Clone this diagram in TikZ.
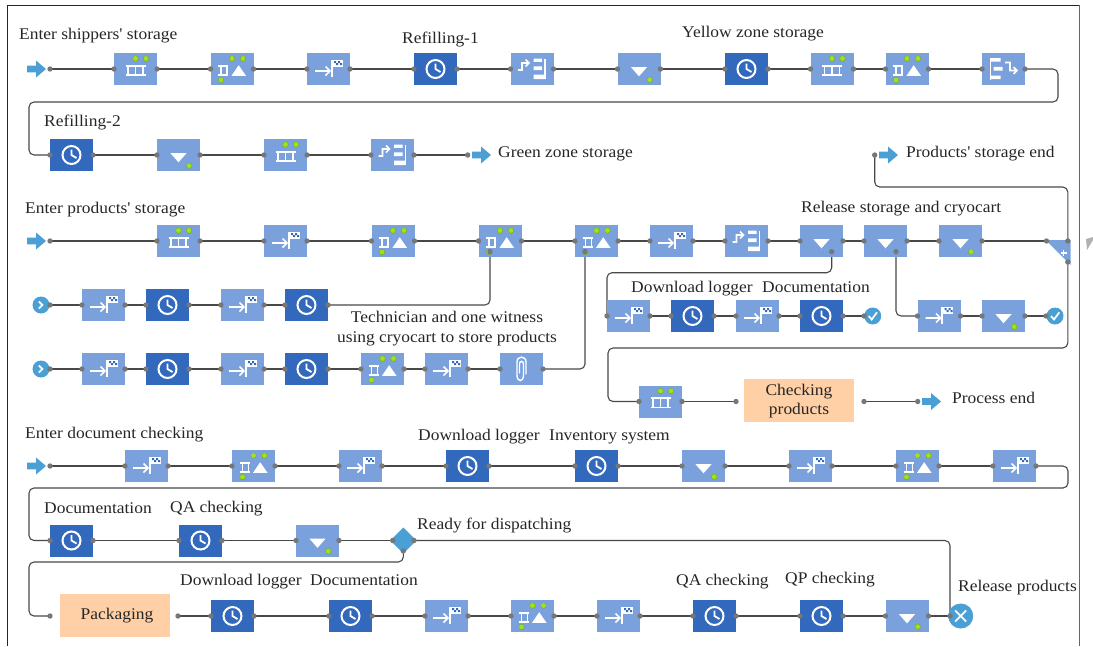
\documentclass[tikz,border=0pt]{standalone}
\usepackage{fontspec}
\newfontfamily\lf{Liberation Serif}[FakeStretch=1.07]
\usetikzlibrary{backgrounds,shapes.geometric}
\definecolor{boxl}{HTML}{7BA1DC}
\definecolor{boxd}{HTML}{3369BD}
\definecolor{arrowb}{HTML}{4A9FD5}
\definecolor{lime}{HTML}{9FE21C}
\definecolor{portc}{HTML}{777777}
\definecolor{connc}{HTML}{484848}
\definecolor{orangeb}{HTML}{FFCFA6}
\tikzset{
  x=1pt,y=-1pt,
  lightbox/.style={fill=boxl,minimum width=43pt,minimum height=32pt,inner sep=0pt,outer sep=0pt},
  darkbox/.style={fill=boxd,minimum width=43pt,minimum height=32pt,inner sep=0pt,outer sep=0pt},
  orangebox/.style={fill=orangeb,inner sep=0pt,outer sep=0pt,align=center,minimum width=110pt,minimum height=43pt,font=\lf\fontsize{16.3}{19}\selectfont,text=black!85},
  lab/.style={font=\lf\fontsize{16.3}{19}\selectfont,inner sep=0pt,anchor=base west,text=black!85},
  labc/.style={font=\lf\fontsize{16.3}{20}\selectfont,inner sep=0pt,align=center,text=black!85},
  conn/.style={draw=connc,line width=1.1pt,rounded corners=5pt},
  ic/.style={draw=white,line width=1.6pt},
  startnode/.style={circle,fill=arrowb,inner sep=0pt,outer sep=0pt,minimum size=17pt},
  framel/.style={draw=#1,line width=1.3pt},
}
\newcommand{\gdot}[2]{\fill[lime,draw=lime!70!black,line width=.3pt] (#1,#2) circle (2.8pt);}
\newcommand{\pnt}[1]{\fill[portc] (#1) circle (2.7pt);}
\newcommand{\barrow}[2]{\fill[arrowb] (#1,#2-3.3) -- (#1+9,#2-3.3) -- (#1+9,#2-8.5) -- (#1+19,#2) -- (#1+9,#2+8.5) -- (#1+9,#2+3.3) -- (#1,#2+3.3) -- cycle;}
% icons
\newcommand{\icqueue}{\draw[ic] (-10,-3.3) -- (10,-3.3) (-10,6) -- (10,6) (-7.5,-3.3) -- (-7.5,6) (0,-3.3) -- (0,6) (7.5,-3.3) -- (7.5,6);\gdot{0}{-10.5}\gdot{10.5}{-10.5}}
\newcommand{\ichold}{\draw[ic] (-14,-3.3) -- (-3.7,-3.3) (-14,6) -- (-3.7,6) (-11,-3.3) -- (-11,6) (-5,-3.3) -- (-5,6);\fill[white] (-.5,6.8) -- (6.7,-3.8) -- (14,6.8) -- cycle;\gdot{0}{-10.5}\gdot{11}{-10.5}\gdot{-11}{11}}
\newcommand{\icflag}{\draw[ic] (-13.5,2) -- (0.5,2) (-3,-2.5) -- (1.5,2) -- (-3,6.5);\draw[ic,line width=1.7pt] (3.2,-9) -- (3.2,7.5);\fill[white] (3.2,-9) rectangle (14,-2.5);\fill[boxd] (5.5,-8) rectangle (7.5,-6) (9.5,-8) rectangle (11.5,-6) (7.5,-6) rectangle (9.5,-4) (11.5,-6) rectangle (13.5,-4);}
\newcommand{\icclock}{\draw[ic,line width=2pt] (0,0) circle (9pt);\draw[ic,line width=1.8pt] (0,-5.5) -- (0,0) -- (5,3);}
\newcommand{\icdown}{\fill[white] (-8,-1.8) -- (8,-1.8) -- (0,7.3) -- cycle;}
\newcommand{\icdowng}{\icdown\gdot{10.7}{10.7}}
\newcommand{\icsplit}{\draw[ic] (-14,1) -- (-10,1) -- (-10,-6) -- (-4,-6) (-6.5,-9.5) -- (-3,-6) -- (-6.5,-2.5);\draw[ic,line width=1.6pt] (13,-10.5) -- (13,10);\fill[white] (1.5,-10.5) rectangle (10,-7.2) (1.5,-2.7) rectangle (10,1) (1.5,5.5) rectangle (13,10);}
\newcommand{\icmerge}{\draw[ic,line width=1.6pt] (-13,-11) -- (-13,11);\fill[white] (-13,-11) rectangle (-3,-7.5) (-10,-2.2) rectangle (-1,1.5) (-13,6.5) rectangle (-3,10);\draw[ic] (1.5,-6.5) -- (6.5,-6.5) -- (6.5,1.5) -- (13,1.5) (10,-2) -- (13.5,1.5) -- (10,5);}
\newcommand{\icclip}{\draw[ic,line width=1.4pt,line cap=round] (4.5,5) -- (4.5,-7) .. controls (4.5,-13.5) and (-4.5,-13.5) .. (-4.5,-7) -- (-4.5,6) .. controls (-4.5,13.5) and (2,13.5) .. (2,6) -- (2,-5) .. controls (2,-8.5) and (-2,-8.5) .. (-2,-5) -- (-2,4);}
% task node: name, x, y, icon
\newcommand{\tk}[4]{\node[lightbox] (#1) at (#2,#3) {};\begin{scope}[shift={(#1.center)}]#4\end{scope}\pnt{#1.west}\pnt{#1.east}}
\newcommand{\tkd}[3]{\node[darkbox] (#1) at (#2,#3) {};\begin{scope}[shift={(#1.center)}]\icclock\end{scope}\pnt{#1.west}\pnt{#1.east}}
\newcommand{\lb}[4]{\node[lab] (#1) at (#2,#3+5.4) {#4};}
\begin{document}
\begin{tikzpicture}
\useasboundingbox (0,0) rectangle (1093,646);
% frame
\draw[framel=black!85] (7.3,646) -- (7.3,5.3) -- (1079.3,5.3);
\draw[framel=black!60,line width=1.6pt] (1079.3,5.3) -- (1079.3,646);
\fill[black!30] (1086,239) -- (1093,237) -- (1093,240) -- (1087,250) -- cycle;
% row 1
\barrow{27}{69}
\coordinate (a1p) at (50,69);\pnt{a1p}
\tk{r1a}{135.5}{69}{\icqueue}
\tk{r1b}{232}{69}{\ichold}
\tk{r1c}{328.5}{69}{\icflag}
\tkd{r1d}{435.5}{69}
\tk{r1e}{532}{69}{\icsplit}
\tk{r1f}{639}{69}{\icdowng}
\tkd{r1g}{746.5}{69}
\tk{r1h}{832}{69}{\icqueue}
\tk{r1i}{907}{69}{\ichold}
\tk{r1j}{1003.5}{69}{\icmerge}
% row 2
\tkd{r2a}{71.5}{155}
\tk{r2b}{178.5}{155}{\icdowng}
\tk{r2c}{285.5}{155}{\icqueue}
\tk{r2d}{392.5}{155}{\icsplit}
\coordinate (a2p) at (467.7,155);\pnt{a2p}
\barrow{472}{155}
\coordinate (a3p) at (874.7,155);\pnt{a3p}
\barrow{879}{155}
% row 3
\barrow{27}{241}
\coordinate (a4p) at (50,241);\pnt{a4p}
\tk{r3a}{178.5}{241}{\icqueue}
\tk{r3b}{285.5}{241}{\icflag}
\tk{r3c}{393}{241}{\ichold}
\tk{r3d}{500}{241}{\ichold}
\tk{r3e}{596.5}{241}{\ichold}
\tk{r3f}{671.5}{241}{\icflag}
\tk{r3g}{746.5}{241}{\icsplit}
\tk{r3h}{821.5}{241}{\icdown}
\tk{r3i}{885.5}{241}{\icdown}
\tk{r3j}{960.5}{241}{\icdowng}
\fill[boxl] (1045.5,240) -- (1070.5,240) -- (1070.5,265) -- cycle;
\draw[white,line width=1.5pt] (1060.5,253) -- (1067,253) (1063.7,249.8) -- (1063.7,256.2);
\coordinate (gwl) at (1046.5,241);\coordinate (gwr) at (1067.8,241);\coordinate (gwb) at (1067.8,262);
\pnt{gwl}\pnt{gwr}\pnt{gwb}
\coordinate (d3h) at (831.7,251.7);\pnt{d3h}
\coordinate (d3i) at (896,251.7);\pnt{d3i}
\coordinate (d3d) at (490,251.7);\pnt{d3d}
\coordinate (d3e) at (585,251.7);\pnt{d3e}
% row 4
\node[startnode] (s4) at (41,305) {};
\draw[white,line width=1.7pt] (38.8,301.5) -- (42.5,305) -- (38.8,308.5);
\coordinate (s4p) at (50,305);\pnt{s4p}
\tk{r4a}{103.5}{305}{\icflag}
\tkd{r4b}{167.5}{305}
\tk{r4c}{242.5}{305}{\icflag}
\tkd{r4d}{306.5}{305}
% row 5
\node[startnode] (s5) at (41,369) {};
\draw[white,line width=1.7pt] (38.8,365.5) -- (42.5,369) -- (38.8,372.5);
\coordinate (s5p) at (50,369);\pnt{s5p}
\tk{r5a}{103.5}{369}{\icflag}
\tkd{r5b}{167.5}{369}
\tk{r5c}{242.5}{369}{\icflag}
\tkd{r5d}{306.5}{369}
\tk{r5e}{382.5}{369}{\ichold}
\tk{r5f}{446.5}{369}{\icflag}
\tk{r5g}{521.5}{369}{\icclip}
% download row
\tk{u1}{628.5}{316}{\icflag}
\tkd{u2}{692.5}{316}
\tk{u3}{757.5}{316}{\icflag}
\tkd{u4}{821.5}{316}
\node[startnode] (e1) at (872.7,316) {};
\draw[white,line width=1.7pt] (868.7,316) -- (871.7,319.5) -- (877,312.3);
\coordinate (e1p) at (864,316);\pnt{e1p}
\tk{v1}{939}{316}{\icflag}
\tk{v2}{1003.5}{316}{\icdowng}
\node[startnode] (e2) at (1055,316) {};
\draw[white,line width=1.7pt] (1051,316) -- (1054,319.5) -- (1059.3,312.3);
\coordinate (e2p) at (1046,316);\pnt{e2p}
% checking row
\tk{w1}{660.5}{401.5}{\icqueue}
\node[orangebox] (w2) at (799,400.7) {Checking\\products};
\coordinate (w2l) at (736,401.5);\coordinate (w2r) at (864,401.5);\pnt{w2l}\pnt{w2r}
\coordinate (a5p) at (917.7,401.5);\pnt{a5p}
\barrow{922}{401.5}
% row 6
\barrow{27}{466}
\coordinate (a6p) at (50,466);\pnt{a6p}
\tk{x1}{146.5}{466}{\icflag}
\tk{x2}{253.5}{466}{\ichold}
\tk{x3}{360.5}{466}{\icflag}
\tkd{x4}{467.5}{466}
\tkd{x5}{596.5}{466}
\tk{x6}{703.5}{466}{\icdowng}
\tk{x7}{810.5}{466}{\icflag}
\tk{x8}{917.5}{466}{\ichold}
\tk{x9}{1014.5}{466}{\icflag}
% row 7
\tkd{y1}{71.5}{540.5}
\tkd{y2}{200.5}{540.5}
\tk{y3}{317.5}{540.5}{\icdowng}
\node[diamond,fill=arrowb,minimum width=26pt,minimum height=26pt,inner sep=0pt,outer sep=0pt] (dm) at (403.3,540.5) {};
\coordinate (dml) at (392.7,540.5);\coordinate (dmr) at (414,540.5);\coordinate (dmb) at (403.3,551);
\pnt{dml}\pnt{dmr}\pnt{dmb}
% row 8
\node[orangebox] (z0) at (115,615.5) {\hspace*{4pt}Packaging};
\coordinate (z0l) at (50,616);\coordinate (z0r) at (178,616);\pnt{z0l}\pnt{z0r}
\tkd{z1}{232.5}{616}
\tkd{z2}{350.5}{616}
\tk{z3}{446.5}{616}{\icflag}
\tk{z4}{532.5}{616}{\ichold}
\tk{z5}{618.5}{616}{\icflag}
\tkd{z6}{714.5}{616}
\tkd{z7}{821.5}{616}
\tk{z8}{907}{616}{\icdowng}
\node[circle,fill=arrowb,minimum size=25pt,inner sep=0pt,outer sep=0pt] (xe) at (960.7,616) {};
\draw[white,line width=1.8pt] (955.2,610.5) -- (966.2,621.5) (966.2,610.5) -- (955.2,621.5);
\coordinate (xep) at (950,616);\pnt{xep}
% bends
\coordinate (b1) at (1058,102);\coordinate (b2) at (29,102);
\coordinate (b3) at (874.7,187);\coordinate (b4) at (1067.8,187);
\coordinate (b5) at (607,272.7);
\coordinate (b7) at (608,348);
\coordinate (b8) at (1068,488);\coordinate (b9) at (29,488);
\coordinate (b11) at (29,562);
\begin{scope}[on background layer]
\draw[conn] (a1p) -- (r1a.west);
\draw[conn] (r1a.east) -- (r1b.west);
\draw[conn] (r1b.east) -- (r1c.west);
\draw[conn] (r1c.east) -- (r1d.west);
\draw[conn] (r1d.east) -- (r1e.west);
\draw[conn] (r1e.east) -- (r1f.west);
\draw[conn] (r1f.east) -- (r1g.west);
\draw[conn] (r1g.east) -- (r1h.west);
\draw[conn] (r1h.east) -- (r1i.west);
\draw[conn] (r1i.east) -- (r1j.west);
\draw[conn] (r1j.east) -| (b1) -- (b2) |- (r2a.west);
\draw[conn] (r2a.east) -- (r2b.west);
\draw[conn] (r2b.east) -- (r2c.west);
\draw[conn] (r2c.east) -- (r2d.west);
\draw[conn] (r2d.east) -- (a2p);
\draw[conn] (a3p) -- (b3) -- (b4) -- (gwr);
\draw[conn] (a4p) -- (r3a.west);
\draw[conn] (r3a.east) -- (r3b.west);
\draw[conn] (r3b.east) -- (r3c.west);
\draw[conn] (r3c.east) -- (r3d.west);
\draw[conn] (r3d.east) -- (r3e.west);
\draw[conn] (r3e.east) -- (r3f.west);
\draw[conn] (r3f.east) -- (r3g.west);
\draw[conn] (r3g.east) -- (r3h.west);
\draw[conn] (r3h.east) -- (r3i.west);
\draw[conn] (r3i.east) -- (r3j.west);
\draw[conn] (r3j.east) -- (gwl);
\draw[conn] (s4p) -- (r4a.west);
\draw[conn] (r4a.east) -- (r4b.west);
\draw[conn] (r4b.east) -- (r4c.west);
\draw[conn] (r4c.east) -- (r4d.west);
\draw[conn] (r4d.east) -| (d3d);
\draw[conn] (s5p) -- (r5a.west);
\draw[conn] (r5a.east) -- (r5b.west);
\draw[conn] (r5b.east) -- (r5c.west);
\draw[conn] (r5c.east) -- (r5d.west);
\draw[conn] (r5d.east) -- (r5e.west);
\draw[conn] (r5e.east) -- (r5f.west);
\draw[conn] (r5f.east) -- (r5g.west);
\draw[conn] (r5g.east) -| (d3e);
\draw[conn] (d3h) |- (b5) -- (u1.west);
\draw[conn] (u1.east) -- (u2.west);
\draw[conn] (u2.east) -- (u3.west);
\draw[conn] (u3.east) -- (u4.west);
\draw[conn] (u4.east) -- (e1p);
\draw[conn] (d3i) |- (v1.west);
\draw[conn] (v1.east) -- (v2.west);
\draw[conn] (v2.east) -- (e2p);
\draw[conn] (gwb) |- (b7) |- (w1.west);
\draw[conn] (w1.east) -- (w2l);
\draw[conn] (w2r) -- (a5p);
\draw[conn] (a6p) -- (x1.west);
\draw[conn] (x1.east) -- (x2.west);
\draw[conn] (x2.east) -- (x3.west);
\draw[conn] (x3.east) -- (x4.west);
\draw[conn] (x4.east) -- (x5.west);
\draw[conn] (x5.east) -- (x6.west);
\draw[conn] (x6.east) -- (x7.west);
\draw[conn] (x7.east) -- (x8.west);
\draw[conn] (x8.east) -- (x9.west);
\draw[conn] (x9.east) -| (b8) -- (b9) |- (y1.west);
\draw[conn] (y1.east) -- (y2.west);
\draw[conn] (y2.east) -- (y3.west);
\draw[conn] (y3.east) -- (dml);
\draw[conn] (dmb) |- (b11) |- (z0l);
\draw[conn] (dmr) -| (xep);
\draw[conn] (z0r) -- (z1.west);
\draw[conn] (z1.east) -- (z2.west);
\draw[conn] (z2.east) -- (z3.west);
\draw[conn] (z3.east) -- (z4.west);
\draw[conn] (z4.east) -- (z5.west);
\draw[conn] (z5.east) -- (z6.west);
\draw[conn] (z6.east) -- (z7.west);
\draw[conn] (z7.east) -- (z8.west);
\draw[conn] (z8.east) -- (xep);
\end{scope}
% labels
\lb{l1}{19}{34}{Enter shippers' storage}
\lb{l2}{402}{38}{Refilling-1}
\lb{l3}{682}{32}{Yellow zone storage}
\lb{l4}{44}{121}{Refilling-2}
\lb{l5}{498}{152}{Green zone storage}
\lb{l6}{906}{152}{Products' storage end}
\lb{l7}{25}{208}{Enter products' storage}
\lb{l8}{801}{207}{Release storage and cryocart}
\lb{l9}{631}{287}{Download logger}
\lb{l10}{762}{287}{Documentation}
\node[labc] (l11) at (447,329) {Technician and one witness\\using cryocart to store products};
\lb{l12}{952}{398}{Process end}
\lb{l13}{25}{433}{Enter document checking}
\lb{l14}{418}{435}{Download logger}
\lb{l15}{549}{435}{Inventory system}
\lb{l16}{44}{508}{Documentation}
\lb{l17}{170}{507}{QA checking}
\lb{l18}{417}{524}{Ready for dispatching}
\lb{l19}{180}{580}{Download logger}
\lb{l20}{310}{580}{Documentation}
\lb{l21}{676}{580}{QA checking}
\lb{l22}{785}{578}{QP checking}
\lb{l23}{958}{586}{Release products}
\end{tikzpicture}
\end{document}
